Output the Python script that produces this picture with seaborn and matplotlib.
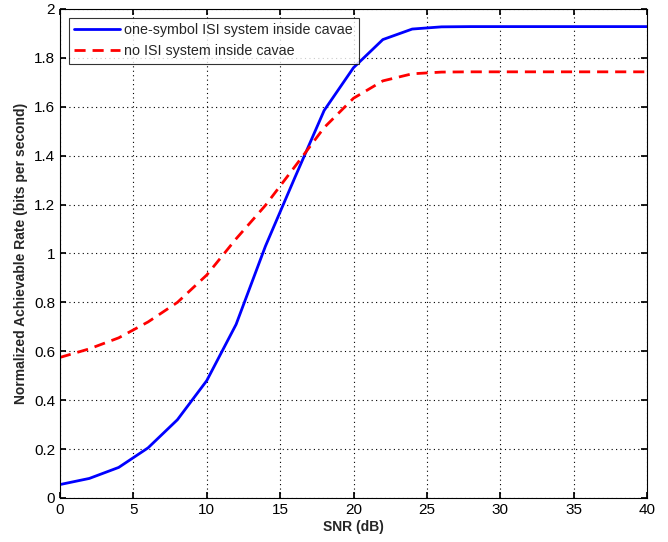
import numpy as np
import pandas as pd
import matplotlib
matplotlib.use("Agg")
import matplotlib.pyplot as plt
import seaborn as sns

snr = [0, 2, 4, 6, 8, 10, 12, 14, 16, 18, 20, 22, 24, 26, 28, 30, 32, 34, 36, 38, 40]
isi_rate = [0.055, 0.08, 0.125, 0.205, 0.32, 0.48, 0.71, 1.03, 1.31, 1.585, 1.76, 1.875, 1.918, 1.927, 1.928, 1.928, 1.928, 1.928, 1.928, 1.928, 1.928]
noisi_rate = [0.575, 0.61, 0.655, 0.72, 0.80, 0.912, 1.06, 1.197, 1.355, 1.515, 1.635, 1.706, 1.735, 1.742, 1.743, 1.743, 1.743, 1.743, 1.743, 1.743, 1.743]
labels = ["one-symbol ISI system inside cavae", "no ISI system inside cavae"]

sns.set_theme(style="white")
plt.rcParams['font.family'] = ['Liberation Sans', 'DejaVu Sans']

df = pd.DataFrame({
    "snr": snr * 2,
    "rate": isi_rate + noisi_rate,
    "system": [labels[0]] * len(snr) + [labels[1]] * len(snr),
})

fig = plt.figure(figsize=(6.68, 5.42), dpi=100)
ax = fig.add_axes([0.0898, 0.0812, 0.8788, 0.9022])

sns.lineplot(data=df, x="snr", y="rate", hue="system", style="system",
             palette={labels[0]: "#0000ff", labels[1]: "#ff0000"},
             dashes={labels[0]: "", labels[1]: (4, 2.5)},
             linewidth=2, ax=ax, legend=True)

ax.set_xlim(0, 40)
ax.set_ylim(0, 2)
ax.set_xticks(np.arange(0, 41, 5))
ax.set_yticks(np.arange(0, 2.01, 0.2))
ax.set_yticklabels(["0", "0.2", "0.4", "0.6", "0.8", "1", "1.2", "1.4", "1.6", "1.8", "2"])
ax.grid(True, color="black", linestyle=(0, (1, 3)), linewidth=0.8)
for s in ax.spines.values():
    s.set_color("black")
    s.set_linewidth(0.8)
ax.tick_params(direction="in", length=4, labelsize=11, colors="black", top=True, right=True, bottom=True, left=True)
ax.set_xlabel("SNR (dB)", fontsize=10, fontweight="bold", labelpad=2)
ax.set_ylabel("Normalized Achievable Rate (bits per second)", fontsize=10, fontweight="bold", labelpad=4)

leg = ax.legend(loc="upper left", fontsize=10.3, frameon=True, fancybox=False,
                edgecolor="black", borderaxespad=0.6, handlelength=3.2,
                borderpad=0.4, labelspacing=0.5, handletextpad=0.3)
leg.get_frame().set_linewidth(0.8)

fig.savefig("out.png", dpi=100)
